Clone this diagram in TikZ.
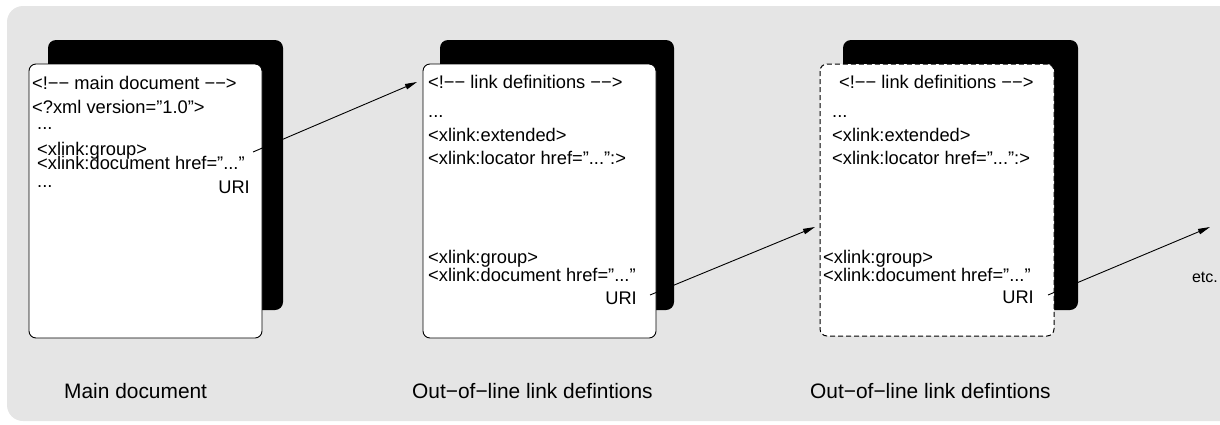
\documentclass[tikz,border=0pt]{standalone}
\usepackage{fontspec}
\setmainfont{Liberation Sans}
\usetikzlibrary{arrows.meta}
\definecolor{bggray}{HTML}{E5E5E5}
\tikzset{
  backsheet/.style={fill=black, rounded corners=8pt},
  frontsheet/.style={fill=white, draw=black, line width=0.9pt, rounded corners=7pt},
  code/.style={anchor=base west, inner sep=0pt, font=\fontsize{18.3}{20}\selectfont},
  uri/.style={anchor=base east, inner sep=0pt, font=\fontsize{18.3}{20}\selectfont},
  caption/.style={anchor=base west, inner sep=0pt, font=\fontsize{20.9}{24}\selectfont},
  link/.style={line width=0.9pt, -{Triangle[length=12pt,width=5.5pt]}}
}
\begin{document}
\begin{tikzpicture}[x=1pt,y=-1pt]
\useasboundingbox (0,0) rectangle (1220,424);
\clip (0,0) rectangle (1220,424);
\fill[bggray, rounded corners=16pt] (7,6) rectangle (1250,421);

% panel 1
\fill[backsheet] (48,40) rectangle (283,310);
\filldraw[frontsheet] (29,64) rectangle (262,338);
\node[code] (a1) at (32,89) {<!−− main document −−>};
\node[code] (a2) at (32,113) {<?xml version="1.0">};
\node[code] (a3) at (37,129) {...};
\node[code] (a4) at (37,155) {<xlink:group>};
\node[code] (a5) at (37,169) {<xlink:document href="..."};
\node[code] (a6) at (37,187) {...};
\node[uri] (u1) at (250,193) {URI};
\node[caption] (c1) at (64,398) {Main document};

% panel 2
\fill[backsheet] (440,40) rectangle (674,310);
\filldraw[frontsheet] (423,64) rectangle (656,338);
\node[code] (b1) at (428,88) {<!−− link definitions −−>};
\node[code] (b2) at (428,117) {...};
\node[code] (b3) at (428,141) {<xlink:extended>};
\node[code] (b4) at (428,164) {<xlink:locator href="...":>};
\node[code] (b5) at (428,263) {<xlink:group>};
\node[code] (b6) at (428,281) {<xlink:document href="..."};
\node[uri] (u2) at (637,304) {URI};
\node[caption] (c2) at (412,398) {Out−of−line link defintions};

% panel 3
\fill[backsheet] (843,40) rectangle (1078,310);
\filldraw[frontsheet, line width=1pt, dash pattern=on 5pt off 3pt] (820,64) rectangle (1054,336);
\node[code] (d1) at (839,88) {<!−− link definitions −−>};
\node[code] (d2) at (832,117) {...};
\node[code] (d3) at (832,141) {<xlink:extended>};
\node[code] (d4) at (832,164) {<xlink:locator href="...":>};
\node[code] (d5) at (823,263) {<xlink:group>};
\node[code] (d6) at (823,281) {<xlink:document href="..."};
\node[uri] (u3) at (1034,303) {URI};
\node[caption] (c3) at (810,398) {Out−of−line link defintions};

\node[uri, font=\fontsize{16}{18}\selectfont] (etc) at (1218,282) {etc.};

% connectors
\coordinate (s1) at (253,152);
\coordinate (t1) at (417,82);
\coordinate (s2) at (650,295);
\coordinate (t2) at (815,227);
\coordinate (s3) at (1048,295);
\coordinate (t3) at (1210,227);
\draw[link] (s1) -- (t1);
\draw[link] (s2) -- (t2);
\draw[link] (s3) -- (t3);
\end{tikzpicture}
\end{document}
